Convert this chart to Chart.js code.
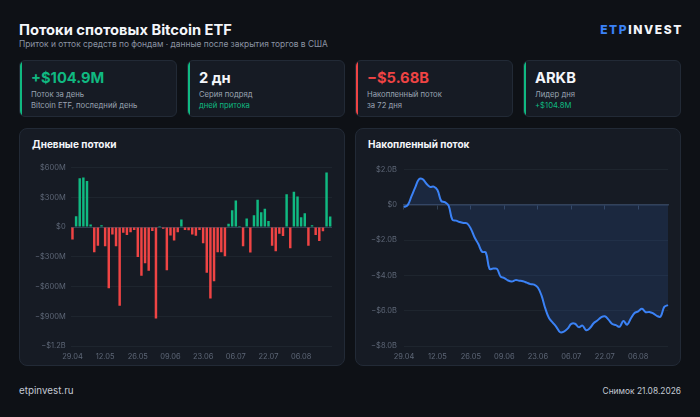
<!DOCTYPE html>
<html lang="ru">
<head>
    <meta charset="UTF-8">
    <title>Потоки спотовых Bitcoin ETF</title>
    <script src="https://cdn.jsdelivr.net/npm/chart.js@4.4.1/dist/chart.umd.min.js"></script>
    <style>
        html, body {
            margin: 0;
            padding: 0;
            width: 700px;
            height: 417px;
            background: #0e1116;
            font-family: Inter, "Noto Sans", sans-serif;
            overflow: hidden;
        }
        .abs { position: absolute; white-space: nowrap; }
        .title { left: 19px; top: 21px; color: #f4f6fa; font-size: 14.7px; font-weight: 700; }
        .subtitle { left: 19px; top: 39px; color: #8b94a3; font-size: 8.4px; }
        .logo { right: 17px; top: 22px; font-size: 12px; font-weight: 800; letter-spacing: 1.6px; color: #f4f6fa; }
        .logo span { color: #3b82f6; }
        .kpi {
            top: 60px; width: 158px; height: 57px;
            background: #161b24; border: 1px solid #222a36; border-radius: 6px;
            box-sizing: border-box; overflow: hidden;
        }
        .kpi::before { content: ""; position: absolute; left: 0; top: 0; bottom: 0; width: 2px; background: var(--accent); }
        .kpi .v { position: absolute; left: 11px; top: 8px; font-size: 14.7px; font-weight: 700; }
        .kpi .l1 { position: absolute; left: 11px; top: 29px; font-size: 7.7px; color: #9aa3b1; }
        .kpi .l2 { position: absolute; left: 11px; top: 40px; font-size: 7.7px; color: #9aa3b1; }
        .green { color: #10b981 !important; }
        .red { color: #ef4444 !important; }
        .white { color: #f4f6fa; }
        .panel {
            top: 128px; width: 326px; height: 238px;
            background: #161b24; border: 1px solid #222a36; border-radius: 8px; box-sizing: border-box;
        }
        .panel h2 { position: absolute; left: 12px; top: 8.5px; margin: 0; font-size: 10px; font-weight: 700; color: #f4f6fa; }
        .box { position: absolute; }
        .foot { top: 385px; font-size: 9.8px; color: #c3c9d3; }
    </style>
</head>
<body>
<div class="abs title">Потоки спотовых Bitcoin ETF</div>
<div class="abs subtitle">Приток и отток средств по фондам · данные после закрытия торгов в США</div>
<div class="abs logo"><span>ETP</span>INVEST</div>

<div class="abs kpi" style="left:19px; --accent:#10b981;">
    <div class="v green">+$104.9M</div>
    <div class="l1">Поток за день</div>
    <div class="l2">Bitcoin ETF, последний день</div>
</div>
<div class="abs kpi" style="left:187px; --accent:#10b981;">
    <div class="v white">2 дн</div>
    <div class="l1">Серия подряд</div>
    <div class="l2 green">дней притока</div>
</div>
<div class="abs kpi" style="left:355px; --accent:#ef4444;">
    <div class="v red">−$5.68B</div>
    <div class="l1">Накопленный поток</div>
    <div class="l2">за 72 дня</div>
</div>
<div class="abs kpi" style="left:523px; --accent:#10b981;">
    <div class="v white">ARKB</div>
    <div class="l1">Лидер дня</div>
    <div class="l2 green">+$104.8M</div>
</div>

<div class="abs panel" style="left:19px;">
    <h2>Дневные потоки</h2>
</div>
<div class="abs panel" style="left:355px;">
    <h2>Накопленный поток</h2>
</div>
<div class="box" style="left:22px; top:158px; width:316px; height:209px;">
    <canvas id="daily_canvas"></canvas>
</div>
<div class="box" style="left:358px; top:158px; width:316px; height:209px;">
    <canvas id="cumulative_canvas"></canvas>
</div>

<div class="abs foot" style="left:19px;">etpinvest.ru</div>
<div class="abs foot" style="right:19px; font-size:8.4px; top:386px;">Снимок 21.08.2026</div>

<script>
    // trading days shown in the charts
    const dates = [
        '29.04', '30.04', '01.05', '04.05', '05.05', '06.05', '07.05', '08.05', '11.05', '12.05',
        '13.05', '14.05', '15.05', '18.05', '19.05', '20.05', '21.05', '22.05', '26.05',
        '27.05', '28.05', '29.05', '01.06', '02.06', '03.06', '04.06', '05.06', '09.06',
        '10.06', '11.06', '12.06', '15.06', '16.06', '17.06', '18.06', '22.06', '23.06',
        '24.06', '25.06', '26.06', '29.06', '30.06', '01.07', '02.07', '03.07', '06.07',
        '08.07', '09.07', '10.07', '13.07', '14.07', '16.07', '17.07', '20.07', '22.07',
        '23.07', '24.07', '27.07', '28.07', '30.07', '31.07', '03.08', '05.08', '06.08',
        '07.08', '10.08', '11.08', '12.08', '13.08', '17.08', '19.08', '20.08'
    ];

    // net daily flow, $M
    const dailyFlow = [
        -125, 108, 491, 498, 464, 24, -254, -190, 17, -193,
        -617, -75, -193, -793, -58, -81, -54, -30, -302, -491,
        -366, -441, -41, -922, 10, -17, -437, -85, -136, -54,
        75, -30, -34, -75, -88, -30, -163, -461, -722, -546,
        -254, -254, -295, 34, 170, 268, 10, -193, 85, -258,
        119, 275, 150, 183, 61, -190, -244, -68, -92, 329,
        -215, 356, 308, 98, 139, -190, 17, -81, -142, -43,
        549, 104.9
    ];

    // cumulative flow, $M
    const cumulativeFlow = [
        -125, -17, 474, 972, 1436, 1460, 1206, 1016, 1033, 840,
        223, 148, -45, -838, -896, -977, -1031, -1061, -1363, -1854,
        -2220, -2661, -2702, -3624, -3614, -3631, -4068, -4153, -4289, -4343,
        -4268, -4298, -4332, -4407, -4495, -4525, -4688, -5149, -5871, -6417,
        -6671, -6925, -7220, -7186, -7016, -6748, -6738, -6931, -6846, -7104,
        -6985, -6710, -6560, -6377, -6316, -6506, -6750, -6818, -6910, -6581,
        -6796, -6440, -6132, -6034, -5895, -6085, -6068, -6149, -6291, -6334,
        -5785, -5680
    ];

    const labelEvery = 9;
    const GREEN = '#10b981';
    const RED = '#ef4444';
    const BLUE = '#3b82f6';
    const GRID = 'rgba(148,163,184,0.07)';
    const ZERO = '#334155';
    const TICK = '#5d6676';

    Chart.defaults.font.family = 'Inter, "Noto Sans", sans-serif';
    Chart.defaults.font.size = 7.5;
    Chart.defaults.color = TICK;

    function money(v) {
        if (v === 0) return '$0';
        const sign = v < 0 ? '−' : '';
        const a = Math.abs(v);
        if (a >= 1000) return sign + '$' + (a / 1000).toFixed(1) + 'B';
        return sign + '$' + a + 'M';
    }

    const xTicks = {
        autoSkip: false,
        maxRotation: 0,
        padding: 6,
        color: TICK,
        callback: function (val, i) {
            return i % labelEvery === 0 ? dates[i] : '';
        }
    };

    new Chart(document.getElementById('daily_canvas'), {
        type: 'bar',
        data: {
            labels: dates,
            datasets: [{
                data: dailyFlow,
                backgroundColor: dailyFlow.map(v => v >= 0 ? GREEN : RED),
                barPercentage: 0.68,
                categoryPercentage: 1.0,
                borderWidth: 0
            }]
        },
        options: {
            responsive: true,
            maintainAspectRatio: false,
            animation: false,
            layout: {padding: {left: 8, right: 6, top: 7.5, bottom: 0}},
            plugins: {legend: {display: false}, tooltip: {enabled: false}},
            scales: {
                x: {
                    grid: {display: false, drawTicks: false},
                    border: {display: false},
                    ticks: xTicks
                },
                y: {
                    min: -1200,
                    max: 600,
                    ticks: {stepSize: 300, padding: 5, callback: v => money(v)},
                    grid: {color: ctx => ctx.tick.value === 0 ? ZERO : GRID, drawTicks: false},
                    border: {display: false}
                }
            }
        }
    });

    new Chart(document.getElementById('cumulative_canvas'), {
        type: 'line',
        data: {
            labels: dates,
            datasets: [{
                data: cumulativeFlow,
                borderColor: BLUE,
                borderWidth: 2,
                backgroundColor: 'rgba(59,130,246,0.13)',
                fill: 'origin',
                tension: 0.4,
                pointRadius: 0
            }]
        },
        options: {
            responsive: true,
            maintainAspectRatio: false,
            animation: false,
            layout: {padding: {left: 6, right: 6, top: 7.5, bottom: 0}},
            plugins: {legend: {display: false}, tooltip: {enabled: false}},
            scales: {
                x: {
                    grid: {display: false, drawTicks: false},
                    border: {display: false},
                    ticks: xTicks
                },
                x2: {
                    type: 'category',
                    position: {y: 0},
                    ticks: {display: false},
                    grid: {
                        drawOnChartArea: false,
                        tickLength: 4,
                        tickColor: ctx => ctx.index % labelEvery === 0 ? ZERO : 'transparent'
                    },
                    border: {color: ZERO, width: 1.5}
                },
                y: {
                    min: -8000,
                    max: 2000,
                    ticks: {stepSize: 2000, padding: 7, callback: v => money(v)},
                    grid: {color: GRID, drawTicks: false},
                    border: {display: false}
                }
            }
        }
    });
</script>
</body>
</html>
